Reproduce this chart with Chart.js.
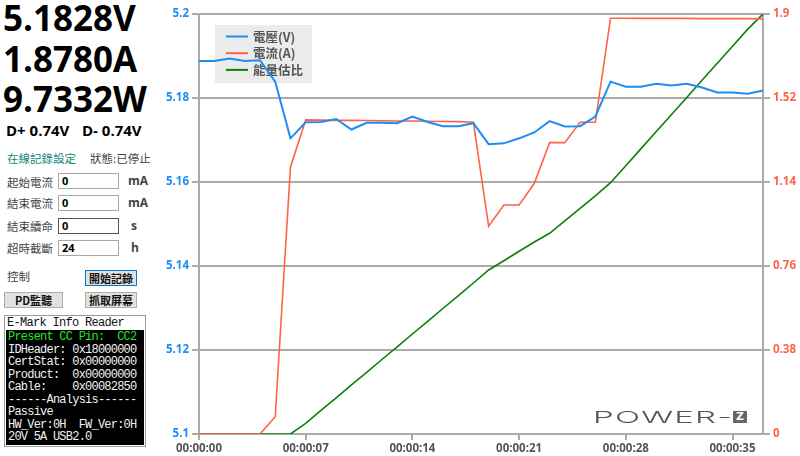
<!DOCTYPE html>
<html><head><meta charset="utf-8">
<script src="https://cdn.jsdelivr.net/npm/chart.js@4/dist/chart.umd.min.js"></script>
<style>
html,body{margin:0;padding:0;background:#fff}
body{width:800px;height:456px;overflow:hidden;position:relative;font-family:"Open Sans","Noto Sans CJK TC",sans-serif}
.abs{position:absolute;white-space:pre}
.big{left:3px;font-weight:700;font-size:35px;line-height:40.5px;color:#000;letter-spacing:0px}
.dd{font-weight:700;font-size:15px;color:#000;top:118px;line-height:24px}
.cjk{font-family:"Noto Sans CJK TC",sans-serif;font-size:11.5px;color:#444;line-height:16px}
.inp{position:absolute;left:58px;width:61px;height:16px;border:1px solid #a8a8a8;background:#fff;box-sizing:border-box;font:700 11px "Open Sans",sans-serif;line-height:14px;padding-left:3px;color:#000}
.unit{font:700 12px "Open Sans",sans-serif;color:#444;line-height:16px}
.btn{position:absolute;box-sizing:border-box;background:#e1e1e1;border:1px solid #adadad;font:700 11px "Noto Sans CJK TC",sans-serif;color:#111;text-align:center;line-height:14px}
#em{position:absolute;left:4px;top:315px;width:142px;height:132px;border:1px solid #9a9a9a;box-sizing:border-box;background:#fff}
#emt{position:absolute;left:2px;top:0px;font:12px "Liberation Mono",monospace;letter-spacing:-0.7px;color:#111;line-height:15px;white-space:pre}
#emb{position:absolute;left:1px;top:14px;width:138px;height:115px;background:#000}
#emtxt{position:absolute;left:2px;top:1px;font:12px "Liberation Mono",monospace;letter-spacing:-0.78px;color:#f2f2f2;line-height:12.55px;white-space:pre}
#wrap{position:absolute;left:150px;top:0;width:650px;height:456px}
#logo{position:absolute;left:593px;top:407px;font:300 16.5px Inter,sans-serif;color:#555;letter-spacing:0.6px;transform:scaleX(2.0);transform-origin:0 0;line-height:20px;white-space:pre}
#logoz{position:absolute;left:733px;top:411px;width:14px;height:12px;background:#666;color:#fff;font:700 11px "DejaVu Sans",sans-serif;line-height:12px;text-align:center}
</style></head>
<body>
<div class="abs big" style="top:-2px">5.1828V<br>1.8780A<br>9.7332W</div>
<div class="abs dd" style="left:6px">D+ 0.74V</div>
<div class="abs dd" style="left:82px">D- 0.74V</div>

<div class="abs cjk" style="left:7px;top:150px;color:#12897a">在線記錄設定</div>
<div class="abs cjk" style="left:90px;top:150px;color:#444">狀態:已停止</div>

<div class="abs cjk" style="left:7px;top:174px">起始電流</div>
<div class="inp" style="top:173px">0</div>
<div class="abs unit" style="left:128px;top:173px">mA</div>

<div class="abs cjk" style="left:7px;top:195px">結束電流</div>
<div class="inp" style="top:195px">0</div>
<div class="abs unit" style="left:128px;top:195px">mA</div>

<div class="abs cjk" style="left:7px;top:218px">結束續命</div>
<div class="inp" style="top:218px;border-color:#555">0</div>
<div class="abs unit" style="left:131px;top:218px">s</div>

<div class="abs cjk" style="left:7px;top:240px">超時截斷</div>
<div class="inp" style="top:240px">24</div>
<div class="abs unit" style="left:131px;top:240px">h</div>

<div class="abs cjk" style="left:7px;top:268px">控制</div>
<div class="btn" style="left:85px;top:270px;width:52px;height:16px;border-color:#0078d7">開始記錄</div>
<div class="btn" style="left:4px;top:292px;width:59px;height:16px">PD監聽</div>
<div class="btn" style="left:85px;top:292px;width:52px;height:16px">抓取屏幕</div>

<div id="em"><div id="emt">E-Mark Info Reader</div><div id="emb"><div id="emtxt"><span style="color:#22e622">Present CC Pin:  CC2</span>
IDHeader: 0x18000000
CertStat: 0x00000000
Product:  0x00000000
Cable:    0x00082850
------Analysis------
Passive
HW_Ver:0H  FW_Ver:0H
20V 5A USB2.0</div></div></div>

<div id="wrap"><canvas id="c" width="650" height="456"></canvas></div>
<div id="logo">POWER-</div><div id="logoz">Z</div>

<script>
const seconds = [0,1,2,3,4,5,6,7,8,9,10,11,12,13,14,15,16,17,18,19,20,21,22,23,24,25,26,27,28,29,30,31,32,33,34,35,36,37];
const voltage = [5.1888,5.1888,5.1894,5.1888,5.1890,5.1839,5.1704,5.1742,5.1743,5.1750,5.1725,5.1741,5.1741,5.1740,5.1756,5.1743,5.1733,5.1733,5.1740,5.1690,5.1692,5.1704,5.1718,5.1745,5.1732,5.1733,5.1756,5.1839,5.1827,5.1827,5.1834,5.1830,5.1834,5.1825,5.1813,5.1813,5.1810,5.1818];
const current = [0,0,0,0,0,0.078,1.207,1.421,1.420,1.419,1.419,1.418,1.417,1.416,1.416,1.415,1.414,1.413,1.410,0.940,1.036,1.036,1.134,1.318,1.318,1.410,1.410,1.881,1.881,1.880,1.880,1.880,1.880,1.879,1.879,1.879,1.879,1.878];
const energyRatio = [0,0,0,0,0,0,0,2.55,5.6,8.62,11.67,14.69,17.74,20.76,23.81,26.83,29.88,32.9,35.95,39.05,41.26,43.5,45.71,47.79,50.76,53.74,56.71,59.83,63.88,67.95,72.02,76.07,80.14,84.21,88.26,92.33,96.4,100];
const xTicks = [0,7,14,21,28,35];
const voltTicks = [5.1,5.12,5.14,5.16,5.18,5.2];
const currTicks = [0,0.38,0.76,1.14,1.52,1.9];
const seriesNames = ['電壓(V)','電流(A)','能量估比'];

const BLUE='#1e8cf5', RED='#ff6347', GREEN='#0a800a', GRID='#ababab';
const pts = arr => seconds.map((s,i)=>({x:s,y:arr[i]}));
const fmtTime = v => { const s=Math.round(v); const hh=String(Math.floor(s/3600)).padStart(2,'0'); const mm=String(Math.floor(s/60)%60).padStart(2,'0'); const ss=String(s%60).padStart(2,'0'); return hh+':'+mm+':'+ss; };

const legendBox = {
  id:'legendBox',
  beforeDatasetsDraw(chart){
    const {ctx, chartArea} = chart;
    const x0 = chartArea.left+16, y0 = chartArea.top+11;
    ctx.save();
    ctx.fillStyle='#ebebeb';
    ctx.fillRect(x0,y0,97,58);
    ctx.font='bold 12.5px "Noto Sans CJK TC", sans-serif';
    ctx.textBaseline='middle';
    chart.data.datasets.forEach((ds,i)=>{
      const y = y0+11.5+i*16.7;
      ctx.strokeStyle=ds.borderColor; ctx.lineWidth=2;
      ctx.beginPath(); ctx.moveTo(x0+11,y); ctx.lineTo(x0+33,y); ctx.stroke();
      ctx.fillStyle='#555';
      ctx.fillText(ds.label,x0+38,y+0.5);
    });
    ctx.restore();
  }
};

new Chart(document.getElementById('c'),{
  type:'line',
  data:{datasets:[
    {label:seriesNames[0],data:pts(voltage),borderColor:BLUE,borderWidth:2,yAxisID:'y'},
    {label:seriesNames[1],data:pts(current),borderColor:RED,borderWidth:1.6,yAxisID:'y1'},
    {label:seriesNames[2],data:pts(energyRatio),borderColor:GREEN,borderWidth:1.6,yAxisID:'y2'}
  ]},
  options:{
    responsive:false,animation:false,devicePixelRatio:1,
    elements:{point:{radius:0},line:{tension:0}},
    layout:{padding:{top:14,left:0,right:0,bottom:0}},
    plugins:{legend:{display:false},tooltip:{enabled:false}},
    scales:{
      x:{type:'linear',min:0,max:37,z:1,
        afterBuildTicks:s=>{s.ticks=xTicks.map(v=>({value:v}));},
        afterFit:s=>{s.height=22;},
        ticks:{callback:v=>fmtTime(v),color:'#555',font:{family:'"Open Sans"',size:11.5,weight:'700'},padding:2,maxRotation:0,autoSkip:false},
        grid:{drawOnChartArea:false,drawTicks:true,tickLength:6,color:GRID,lineWidth:2},
        border:{display:true,color:GRID,width:2}},
      y:{position:'left',min:5.1,max:5.2,
        afterBuildTicks:s=>{s.ticks=voltTicks.map(v=>({value:v}));},
        afterFit:s=>{s.width=49;},
        ticks:{callback:v=>String(+v.toFixed(2)),color:BLUE,font:{family:'"Open Sans"',size:11.5,weight:'700'},padding:3},
        grid:{color:GRID,lineWidth:2,tickLength:7},
        border:{display:true,color:GRID,width:2}},
      y1:{position:'right',min:0,max:1.9,
        afterBuildTicks:s=>{s.ticks=currTicks.map(v=>({value:v}));},
        afterFit:s=>{s.width=37;},
        ticks:{callback:v=>String(+v.toFixed(2)),color:RED,font:{family:'"Open Sans"',size:11.5,weight:'700'},padding:3},
        grid:{drawOnChartArea:false,color:GRID,lineWidth:2,tickLength:7},
        border:{display:true,color:GRID,width:2}},
      y2:{display:false,min:0,max:100}
    }
  },
  plugins:[legendBox]
});
</script>
</body></html>
